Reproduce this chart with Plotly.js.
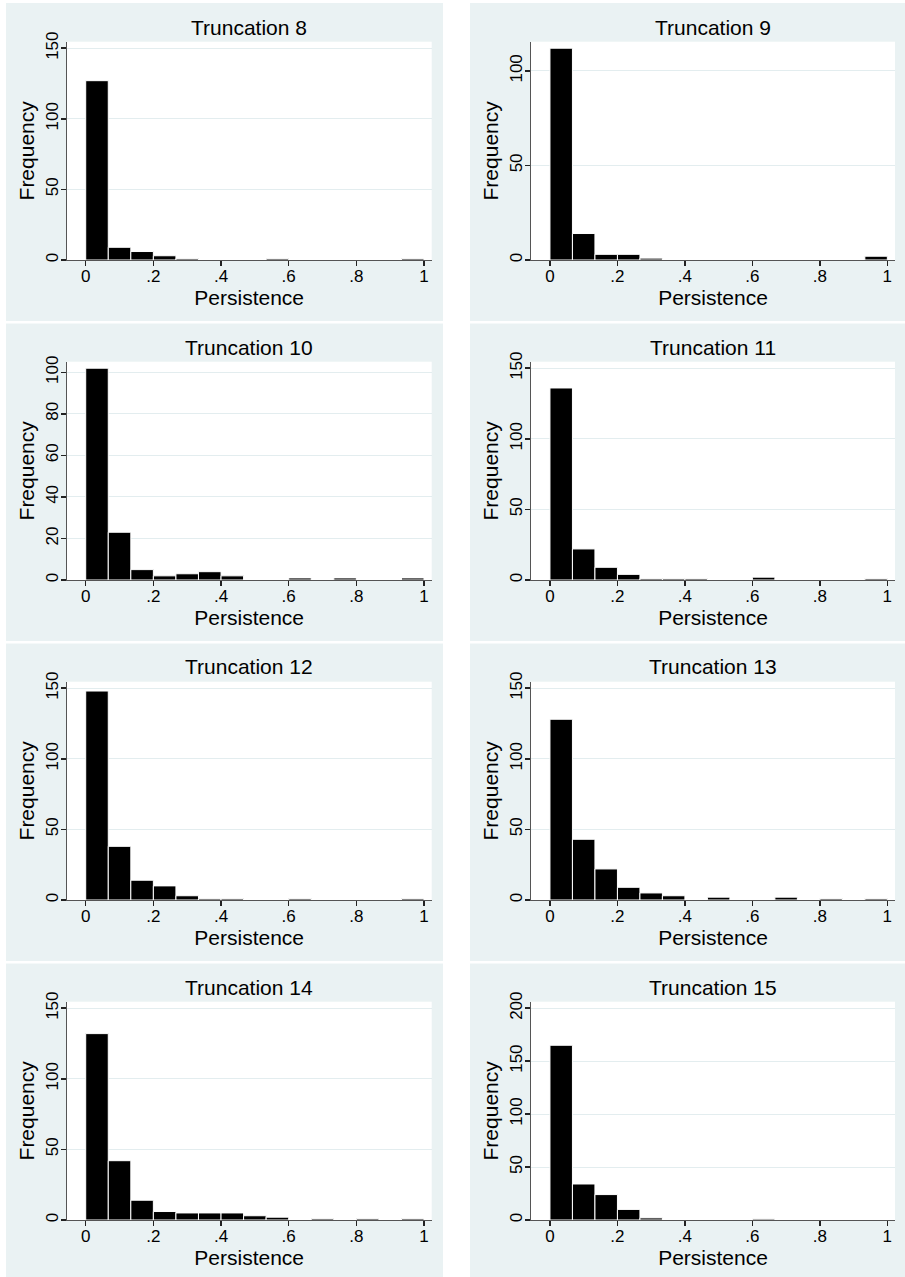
<!DOCTYPE html>
<html>
<head>
<meta charset="utf-8">
<script src="https://cdn.plot.ly/plotly-3.0.1.min.js"></script>
<style>
html, body { margin: 0; padding: 0; background: #ffffff; }
#chart { width: 905px; height: 1277px; }
</style>
</head>
<body>
<div id="chart"></div>
<script>
// ---------------- data ----------------
const panelTitles = ["Truncation 8", "Truncation 9", "Truncation 10", "Truncation 11",
                     "Truncation 12", "Truncation 13", "Truncation 14", "Truncation 15"];
// 15 equal-width bins over [0, 1]
const binCount = 15;
const counts8  = [127, 9, 6, 3, 1, 0, 0, 0, 1, 0, 0, 0, 0, 0, 1];
const counts9  = [112, 14, 3, 3, 1, 0, 0, 0, 0, 0, 0, 0, 0, 0, 2];
const counts10 = [102, 23, 5, 2, 3, 4, 2, 0, 0, 1, 0, 1, 0, 0, 1];
const counts11 = [136, 22, 9, 4, 1, 1, 1, 0, 0, 2, 0, 0, 0, 0, 1];
const counts12 = [148, 38, 14, 10, 3, 1, 1, 0, 0, 1, 0, 0, 0, 0, 1];
const counts13 = [128, 43, 22, 9, 5, 3, 0, 2, 0, 0, 2, 0, 1, 0, 1];
const counts14 = [132, 42, 14, 6, 5, 5, 5, 3, 2, 0, 1, 0, 1, 0, 1];
const counts15 = [165, 34, 24, 10, 2, 0, 0, 0, 0, 1, 0, 0, 0, 0, 0];
const yTicks8  = [0, 50, 100, 150];
const yTicks9  = [0, 50, 100];
const yTicks10 = [0, 20, 40, 60, 80, 100];
const yTicks11 = [0, 50, 100, 150];
const yTicks12 = [0, 50, 100, 150];
const yTicks13 = [0, 50, 100, 150];
const yTicks14 = [0, 50, 100, 150];
const yTicks15 = [0, 50, 100, 150, 200];
const xTickVals = [0, 0.2, 0.4, 0.6, 0.8, 1];
const xTickText = ["0", ".2", ".4", ".6", ".8", "1"];
const xAxisTitle = "Persistence";
const yAxisTitle = "Frequency";

const allCounts = [counts8, counts9, counts10, counts11, counts12, counts13, counts14, counts15];
const allYTicks = [yTicks8, yTicks9, yTicks10, yTicks11, yTicks12, yTicks13, yTicks14, yTicks15];

// ---------------- layout constants (px) ----------------
const W = 905, H = 1277;
const cols = [{l: 66.7, r: 431.7}, {l: 531, r: 895}];
const rowPitch = 320, plotTop0 = 41.7, plotBot0 = 260, titleMid0 = 27;
const topPad = 6.5; // px between highest value and top of plot region
const FONT = "Liberation Sans, Arial, Helvetica, sans-serif";
const panelColor = "#EAF2F3";

const binWidth = 1 / binCount;
const binCenters = allCounts[0].map((_, i) => (i + 0.5) * binWidth);

const traces = [];
const layout = {
  width: W, height: H,
  margin: {l: 0, r: 0, t: 0, b: 0, pad: 0},
  paper_bgcolor: panelColor,
  plot_bgcolor: "#ffffff",
  showlegend: false,
  bargap: 0,
  font: {family: FONT, color: "#000000"},
  annotations: [],
  shapes: []
};

for (let i = 0; i < 8; i++) {
  const c = i % 2, r = Math.floor(i / 2);
  const n = i === 0 ? "" : String(i + 1);
  const top = plotTop0 + rowPitch * r, bot = plotBot0 + rowPitch * r;
  const plotH = bot - top;
  const ticks = allYTicks[i];
  const yTop = Math.max(ticks[ticks.length - 1], Math.max(...allCounts[i]));
  const yMax = yTop / (1 - topPad / plotH);

  traces.push({
    type: "bar",
    x: binCenters,
    y: allCounts[i],
    width: binWidth,
    marker: {color: "#000000", line: {color: "#ffffff", width: 1}},
    xaxis: "x" + n, yaxis: "y" + n,
    hoverinfo: "skip"
  });

  layout["xaxis" + n] = {
    domain: [cols[c].l / W, cols[c].r / W],
    anchor: "y" + n,
    range: [-0.0562, 1.0227],
    tickmode: "array", tickvals: xTickVals, ticktext: xTickText,
    ticks: "outside", ticklen: 5, tickwidth: 1.5, tickcolor: "#222222",
    ticklabelstandoff: -4,
    showline: true, linecolor: "#555555", linewidth: 1,
    showgrid: false, zeroline: false,
    tickfont: {family: FONT, size: 17, color: "#000000"},
    title: {text: xAxisTitle, font: {family: FONT, size: 21, color: "#000000"}, standoff: 1},
    fixedrange: true
  };
  layout["yaxis" + n] = {
    domain: [1 - bot / H, 1 - top / H],
    anchor: "x" + n,
    range: [0, yMax],
    tickmode: "array", tickvals: ticks, ticktext: ticks.map(String),
    tickangle: -90,
    ticks: "outside", ticklen: 5, tickwidth: 1.5, tickcolor: "#222222",
    ticklabelstandoff: -4,
    showline: true, linecolor: "#555555", linewidth: 1,
    showgrid: true, gridcolor: "#E3EDEF", gridwidth: 1,
    zeroline: false,
    tickfont: {family: FONT, size: 17, color: "#000000"},
    title: {text: yAxisTitle, font: {family: FONT, size: 21, color: "#000000"}, standoff: 2},
    fixedrange: true
  };
  layout.annotations.push({
    text: panelTitles[i],
    xref: "paper", yref: "paper",
    x: (cols[c].l + cols[c].r) / 2 / W,
    y: 1 - (titleMid0 + rowPitch * r) / H,
    xanchor: "center", yanchor: "middle",
    showarrow: false,
    font: {family: FONT, size: 21, color: "#000000"}
  });
}

// white gaps between the light panels
const gaps = [
  [0, 0, 6, H], [443, 0, 470, H], [0, 0, W, 3],
  [0, 321, W, 323.5], [0, 641, W, 643.5], [0, 961, W, 963.5]
];
gaps.forEach(g => layout.shapes.push({
  type: "rect", xref: "paper", yref: "paper", layer: "below",
  x0: g[0] / W, x1: g[2] / W, y0: 1 - g[3] / H, y1: 1 - g[1] / H,
  fillcolor: "#ffffff", line: {width: 0}
}));

Plotly.newPlot("chart", traces, layout, {staticPlot: true, displayModeBar: false});
</script>
</body>
</html>
